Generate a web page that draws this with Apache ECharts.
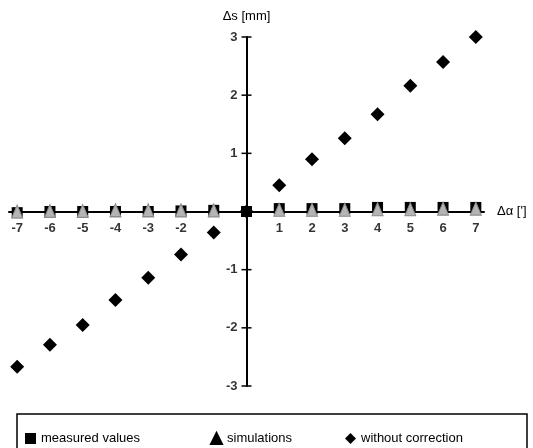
<!DOCTYPE html>
<html>
<head>
<meta charset="utf-8">
<script src="https://cdn.jsdelivr.net/npm/echarts@6/dist/echarts.min.js"></script>
<style>
  html, body { margin: 0; padding: 0; background: #fff; }
  #chart { width: 533px; height: 448px; }
</style>
</head>
<body>
<div id="chart"></div>
<script>
// data
const alphaValues = [-7, -6, -5, -4, -3, -2, -1, 0, 1, 2, 3, 4, 5, 6, 7]
const measuredValues = [-0.02, 0, 0, 0, 0, 0.01, 0.02, 0, 0.05, 0.05, 0.05, 0.07, 0.07, 0.07, 0.07]
const simulationValues = [0, 0.01, 0.01, 0.02, 0.02, 0.02, 0.02, null, 0.03, 0.03, 0.03, 0.04, 0.04, 0.05, 0.05]
const uncorrectedValues = [-2.67, -2.29, -1.95, -1.52, -1.14, -0.74, -0.36, 0, 0.45, 0.9, 1.26, 1.67, 2.16, 2.57, 3.0]
// "-1" is hidden under a diamond in the original
const xTickLabels = [-7, -6, -5, -4, -3, -2, 1, 2, 3, 4, 5, 6, 7]
const yTickLabels = [-3, -2, -1, 1, 2, 3]
const yTickMarks = [-3, -2, -1, 1, 2, 3]

const font = 'Liberation Sans, Arial, sans-serif'

function pairs(ys) {
  return alphaValues.map((x, i) => [x, ys[i]])
}

const chart = echarts.init(document.getElementById('chart'))

// legend items, one legend each so they sit where the original has them
function legendAt(left, name, icon) {
  return {
    left: left,
    top: 427,
    itemWidth: 11,
    itemHeight: 11,
    itemGap: 5,
    selectedMode: false,
    textStyle: { fontFamily: font, fontSize: 13, color: '#000' },
    data: [{ name: name, icon: icon, itemStyle: { color: '#000', borderColor: '#000', opacity: 1 } }]
  }
}

// tick labels sit on the crossing axes, so they are drawn as label-only points
const tickLabelStyle = {
  show: true,
  fontFamily: font,
  fontSize: 13,
  fontWeight: 'bold',
  color: '#000'
}

const option = {
  animation: false,
  grid: { left: 9, right: 49, top: 37, bottom: 62 },
  xAxis: {
    type: 'value',
    min: -7.25,
    max: 7.25,
    interval: 0.25,
    name: 'Δα [\']',
    nameLocation: 'end',
    nameGap: 13,
    nameTextStyle: { fontFamily: font, fontSize: 13, color: '#000' },
    axisLine: { onZero: true, lineStyle: { color: '#000', width: 2 } },
    axisTick: { show: false },
    splitLine: { show: false },
    axisLabel: { show: false }
  },
  yAxis: {
    type: 'value',
    min: -3,
    max: 3,
    interval: 1,
    name: 'Δs [mm]',
    nameLocation: 'end',
    nameGap: 14,
    nameTextStyle: { fontFamily: font, fontSize: 13, color: '#000', align: 'center' },
    axisLine: { onZero: true, lineStyle: { color: '#000', width: 2 } },
    axisTick: { show: false },
    splitLine: { show: false },
    axisLabel: { show: false }
  },
  legend: [
    legendAt(20, 'measured values', 'rect'),
    legendAt(205, 'simulations', 'triangle'),
    legendAt(340, 'without correction', 'diamond')
  ],
  graphic: [
    {
      type: 'rect',
      shape: { x: 17, y: 414, width: 510, height: 50 },
      style: { fill: 'none', stroke: '#000', lineWidth: 1.5 }
    }
  ],
  series: [
    {
      // y tick marks crossing the vertical axis
      type: 'scatter',
      silent: true,
      symbol: 'rect',
      symbolSize: [10, 1.5],
      itemStyle: { color: '#000', opacity: 1 },
      data: yTickMarks.map(v => [0, v]),
      z: 2
    },
    {
      type: 'scatter',
      silent: true,
      symbolSize: 0,
      label: Object.assign({}, tickLabelStyle, {
        position: 'bottom',
        distance: 10,
        formatter: p => String(p.value[0])
      }),
      data: xTickLabels.map(v => [v, 0]),
      z: 1
    },
    {
      type: 'scatter',
      silent: true,
      symbolSize: 0,
      label: Object.assign({}, tickLabelStyle, {
        position: 'left',
        distance: 9,
        formatter: p => String(p.value[1])
      }),
      data: yTickLabels.map(v => [0, v]),
      z: 1
    },
    {
      name: 'without correction',
      type: 'scatter',
      symbol: 'diamond',
      symbolSize: 14,
      itemStyle: { color: '#000', opacity: 1 },
      data: pairs(uncorrectedValues),
      z: 3
    },
    {
      name: 'measured values',
      type: 'scatter',
      symbol: 'rect',
      symbolSize: 11,
      itemStyle: { color: '#000', opacity: 1 },
      data: pairs(measuredValues),
      z: 4
    },
    {
      name: 'simulations',
      type: 'scatter',
      symbol: 'triangle',
      symbolSize: [11, 13],
      itemStyle: { color: '#b4b4b4', borderColor: '#8a8a8a', borderWidth: 1, opacity: 1 },
      data: pairs(simulationValues),
      z: 5
    }
  ]
}

chart.setOption(option)
</script>
</body>
</html>
